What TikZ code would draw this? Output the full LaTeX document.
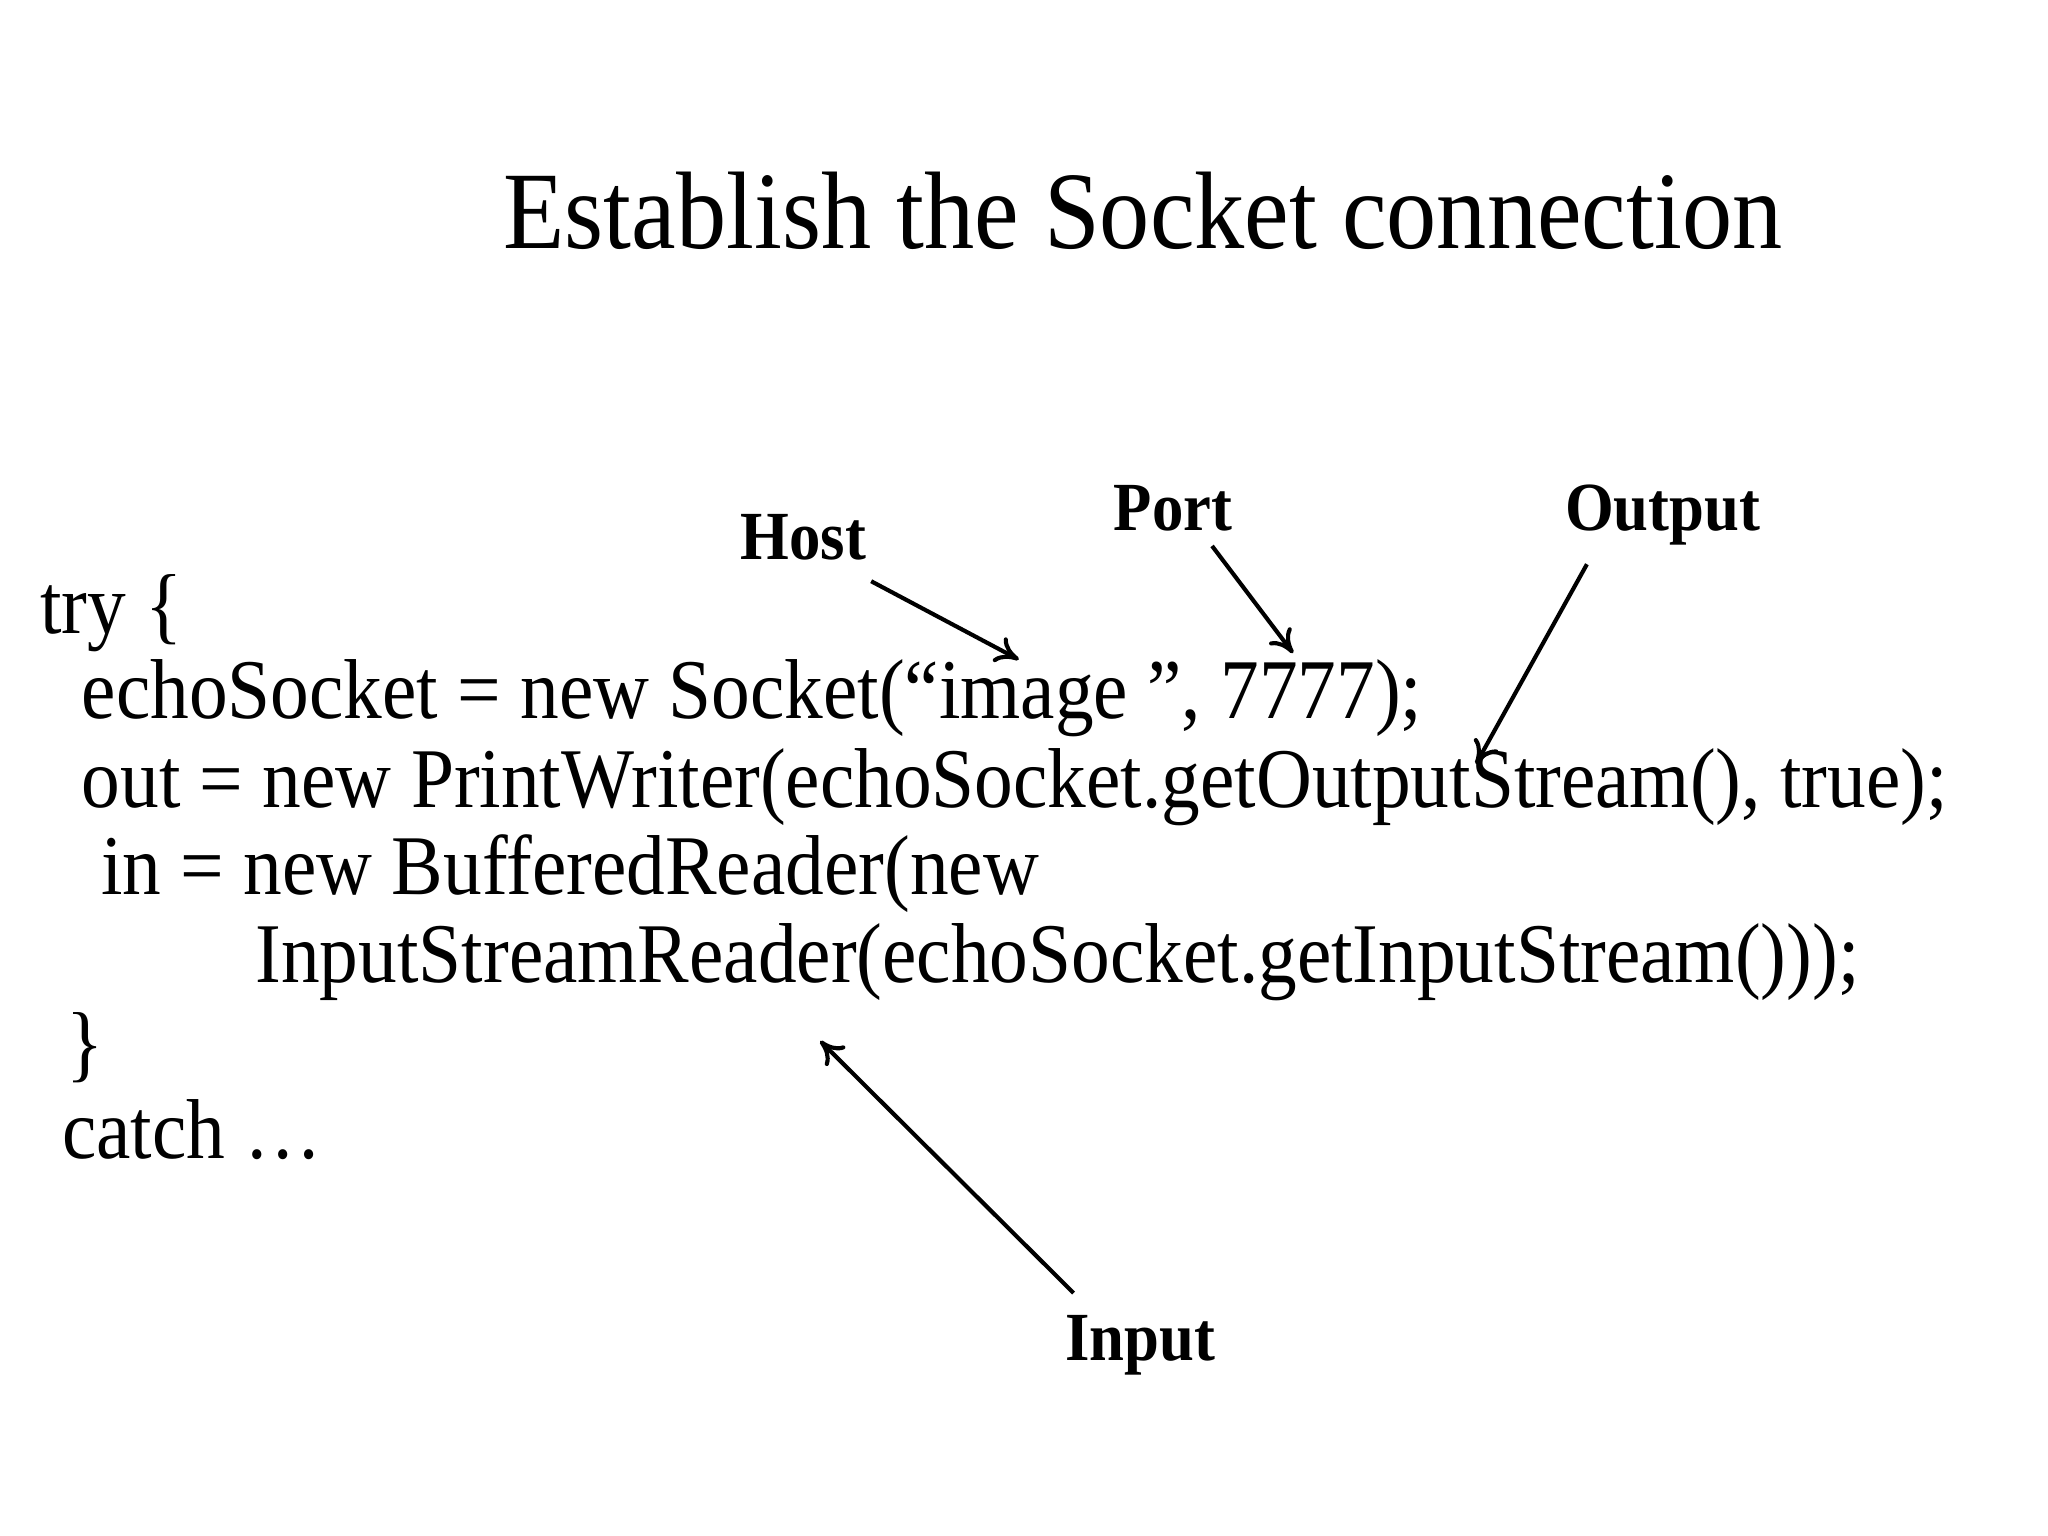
\documentclass[tikz,border=0pt]{standalone}
\usepackage{fontspec}
\setmainfont{Liberation Serif}
\usetikzlibrary{arrows.meta}
\begin{document}
\begin{tikzpicture}[x=0.01cm,y=-0.01cm,
  txt/.style={inner sep=0pt,xscale=0.91,transform shape},
  code/.style={txt,anchor=base west,font=\fontsize{18.5}{20}\selectfont},
  lab/.style={txt,anchor=base,font=\fontsize{15}{17}\selectfont\bfseries},
  arr/.style={-{To[length=5pt,width=6pt]},line width=0.9pt}]
\useasboundingbox (0,0) rectangle (1568,1176);
\node[txt,anchor=base,font=\fontsize{24}{26}\selectfont] (title) at (875,190) {Establish the Socket connection};
\node[code] (l1) at (30,485) {try \{};
\node[code] (l2) at (62,550) {echoSocket = new Socket(“image \symbol{34}, 7777);};
\node[code] (l3) at (62,618) {out = new PrintWriter(echoSocket.getOutputStream(), true);};
\node[code] (l4) at (77,685) {in = new BufferedReader(new};
\node[code] (l5) at (195,752) {InputStreamReader(echoSocket.getInputStream()));};
\node[code] (l6) at (50,820) {\}};
\node[code] (l7) at (47,887) {catch …};
\node[lab] (host) at (615,428) {Host};
\node[lab] (port) at (898,406) {Port};
\node[lab] (output) at (1273,406) {Output};
\node[lab] (input) at (873,1042) {Input};
\coordinate (hE) at (780,505);
\coordinate (pE) at (990,500);
\coordinate (oE) at (1130,585);
\coordinate (iE) at (628,797);
\coordinate (hS) at (667,445);
\coordinate (pS) at (928,418);
\coordinate (oS) at (1215,432);
\coordinate (iS) at (822,990);
\draw[arr] (hS) -- (hE);
\draw[arr] (pS) -- (pE);
\draw[arr] (oS) -- (oE);
\draw[arr] (iS) -- (iE);
\end{tikzpicture}
\end{document}
